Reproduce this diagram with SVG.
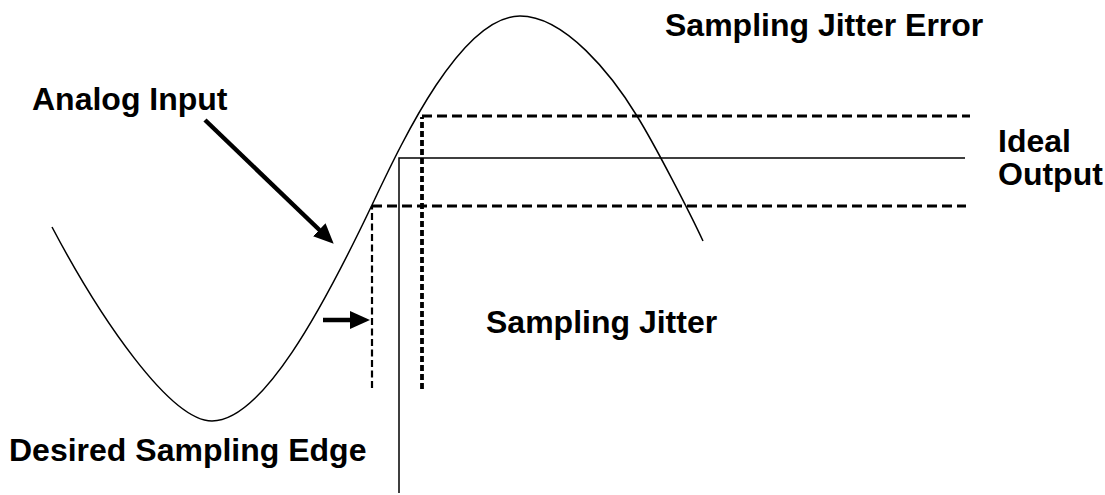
<svg xmlns="http://www.w3.org/2000/svg" width="1105" height="495" viewBox="0 0 1105 495">
  <style>
    .lbl { font-family: "Liberation Sans", Arial, sans-serif; font-weight: bold; font-size: 32px; fill: #000; }
    .thin { stroke: #000; stroke-width: 1.5; fill: none; }
    .hdash { stroke: #000; stroke-width: 3; stroke-dasharray: 10 5; fill: none; }
    .vdash { stroke: #000; stroke-width: 2.2; stroke-dasharray: 7 3.5; fill: none; }
    .vdash-thick { stroke: #000; stroke-width: 3.8; stroke-dasharray: 6 3; fill: none; }
    .arrow { stroke: #000; stroke-width: 4.5; fill: none; marker-end: url(#head); }
  </style>
  <defs>
    <marker id="head" markerUnits="userSpaceOnUse" viewBox="0 -9 20 18" markerWidth="20" markerHeight="18" refX="1" refY="0" orient="auto">
      <path d="M0,-9 L20,0 L0,9 Z" fill="#000"/>
    </marker>
  </defs>
  <rect width="1105" height="495" fill="#fff"/>

  <g id="analog-signal">
    <path class="thin" d="M52,227 C100,318 170,421 212,421 C262,421 322,310 372,205 C400,146 460,16 520,16 C565,16 612,75 637,116 C655,145 690,213 703,241"/>
  </g>

  <g id="ideal-output-level">
    <path class="thin" d="M399,493 L399,158 L965,158"/>
  </g>

  <g id="jitter-window-early">
    <path class="vdash" d="M372,388 L372,206"/>
    <path class="hdash" d="M372,206 L966,206"/>
  </g>

  <g id="jitter-window-late">
    <path class="vdash-thick" d="M422,389 L422,117"/>
    <path class="hdash" d="M422,116 L970,116"/>
  </g>

  <g id="label-sampling-jitter-error">
    <text class="lbl" x="665" y="36">Sampling Jitter Error</text>
  </g>
  <g id="label-analog-input">
    <text class="lbl" x="32" y="110">Analog Input</text>
  </g>
  <g id="label-ideal-output">
    <text class="lbl" x="998" y="152">Ideal</text>
    <text class="lbl" x="998" y="185">Output</text>
  </g>
  <g id="label-sampling-jitter">
    <text class="lbl" x="486" y="333">Sampling Jitter</text>
  </g>
  <g id="label-desired-sampling-edge">
    <text class="lbl" x="9" y="461">Desired Sampling Edge</text>
  </g>

  <g id="connectors">
    <line class="arrow" x1="205" y1="120" x2="320" y2="230.5"/>
    <line class="arrow" x1="323" y1="320" x2="351" y2="320"/>
  </g>
</svg>
